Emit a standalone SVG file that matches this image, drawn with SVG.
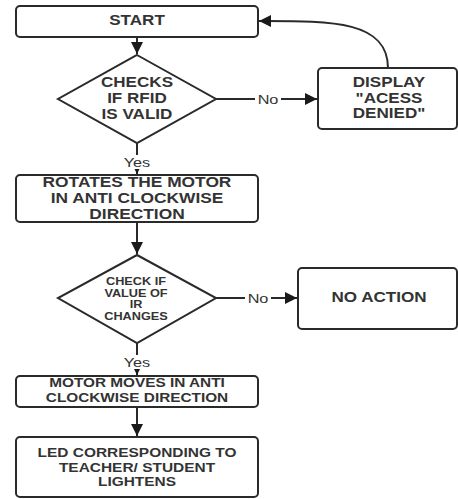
<svg xmlns="http://www.w3.org/2000/svg" width="458" height="499" viewBox="0 0 458 499">
<style>
.box{fill:#fff;stroke:#2a2a2a;stroke-width:2}
.t{font-family:"Liberation Sans",Arial,sans-serif;font-weight:bold;fill:#333;text-anchor:middle}
.l{font-family:"Liberation Sans",Arial,sans-serif;fill:#333;text-anchor:middle;font-size:13px}
.c{fill:none;stroke:#2a2a2a;stroke-width:2}
</style>
<defs>
<marker id="ah" viewBox="0 0 10 10" refX="10" refY="5" markerWidth="6" markerHeight="6" markerUnits="strokeWidth" orient="auto">
<path d="M0,0 L10,5 L0,10 z" fill="#1a1a1a"/>
</marker>
</defs>
<rect width="458" height="499" fill="#fff"/>
<g id="connectors">
<path class="c" d="M137,37 V54" marker-end="url(#ah)"/>
<path class="c" d="M216,99 H317" marker-end="url(#ah)"/>
<path class="c" d="M388,68 C388,20 330,21 259,21" marker-end="url(#ah)"/>
<path class="c" d="M137,143 V174" marker-end="url(#ah)"/>
<path class="c" d="M137,222 V254" marker-end="url(#ah)"/>
<path class="c" d="M216,298 H297" marker-end="url(#ah)"/>
<path class="c" d="M137,343 V375" marker-end="url(#ah)"/>
<path class="c" d="M137,407 V436" marker-end="url(#ah)"/>
<rect x="255" y="90" width="26" height="16" fill="#fff"/>
<text class="l" transform="translate(268,104) scale(1.25,1)">No</text>
<rect x="245" y="289" width="26" height="16" fill="#fff"/>
<text class="l" transform="translate(258,303) scale(1.25,1)">No</text>
<rect x="121" y="155" width="32" height="14" fill="#fff"/>
<text class="l" transform="translate(137,167) scale(1.25,1)">Yes</text>
<rect x="121" y="355" width="32" height="14" fill="#fff"/>
<text class="l" transform="translate(137,367) scale(1.25,1)">Yes</text>
</g>
<g id="start">
<rect class="box" x="16" y="6" width="242" height="31" rx="4"/>
<text class="t" font-size="14" transform="translate(137,25) scale(1.22,1)">START</text>
</g>
<g id="check-rfid">
<polygon class="box" points="137,55 216,99 137,143 58,99"/>
<text class="t" font-size="14" transform="translate(137,87) scale(1.22,1)">CHECKS</text>
<text class="t" font-size="14" transform="translate(137,103) scale(1.22,1)">IF RFID</text>
<text class="t" font-size="14" transform="translate(137,119) scale(1.22,1)">IS VALID</text>
</g>
<g id="access-denied">
<rect class="box" x="318" y="68" width="139" height="61" rx="4"/>
<text class="t" font-size="14" transform="translate(389,87) scale(1.22,1)">DISPLAY</text>
<text class="t" font-size="14" transform="translate(389,103) scale(1.22,1)">"ACESS</text>
<text class="t" font-size="14" transform="translate(389,118) scale(1.22,1)">DENIED"</text>
</g>
<g id="rotate-motor">
<rect class="box" x="16" y="175" width="242" height="47" rx="4"/>
<text class="t" font-size="14" transform="translate(137,187) scale(1.24,1)">ROTATES THE MOTOR</text>
<text class="t" font-size="14" transform="translate(137,203) scale(1.24,1)">IN ANTI CLOCKWISE</text>
<text class="t" font-size="14" transform="translate(137,219) scale(1.24,1)">DIRECTION</text>
</g>
<g id="check-ir">
<polygon class="box" points="137,255 216,298 137,343 58,298"/>
<text class="t" font-size="10" transform="translate(136,285) scale(1.27,1)">CHECK IF</text>
<text class="t" font-size="10" transform="translate(136,297) scale(1.27,1)">VALUE OF</text>
<text class="t" font-size="10" transform="translate(136,308) scale(1.27,1)">IR</text>
<text class="t" font-size="10" transform="translate(136,320) scale(1.27,1)">CHANGES</text>
</g>
<g id="no-action">
<rect class="box" x="298" y="268" width="159" height="61" rx="4"/>
<text class="t" font-size="14" transform="translate(379,302) scale(1.22,1)">NO ACTION</text>
</g>
<g id="motor-moves">
<rect class="box" x="16" y="376" width="242" height="31" rx="4"/>
<text class="t" font-size="12" transform="translate(137,387) scale(1.28,1)">MOTOR MOVES IN ANTI</text>
<text class="t" font-size="12" transform="translate(137,402) scale(1.28,1)">CLOCKWISE DIRECTION</text>
</g>
<g id="led">
<rect class="box" x="16" y="437" width="242" height="60" rx="4"/>
<text class="t" font-size="13" transform="translate(137,457) scale(1.19,1)">LED CORRESPONDING TO</text>
<text class="t" font-size="13" transform="translate(137,472) scale(1.19,1)">TEACHER/ STUDENT</text>
<text class="t" font-size="13" transform="translate(137,486) scale(1.19,1)">LIGHTENS</text>
</g>
</svg>
